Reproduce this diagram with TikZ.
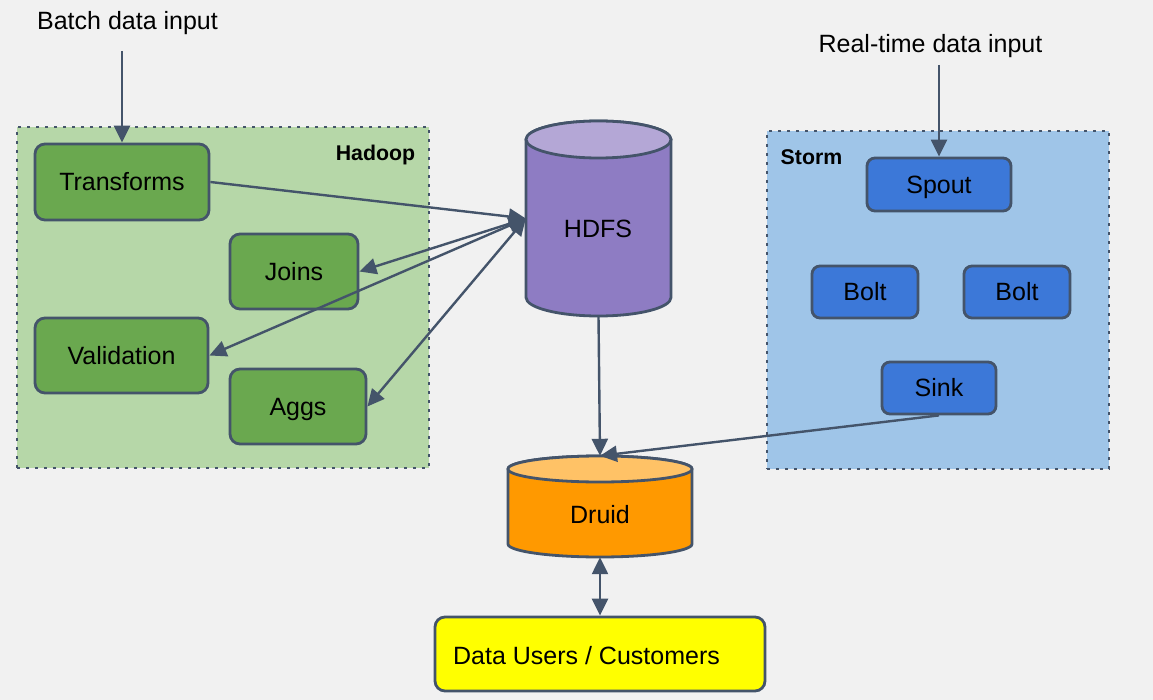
\documentclass[tikz,border=0pt]{standalone}
\usepackage{fontspec}
\setmainfont{Liberation Sans}
\usetikzlibrary{arrows.meta}
\definecolor{bgc}{HTML}{F1F1F1}
\definecolor{strokec}{HTML}{44546A}
\definecolor{hadoopc}{HTML}{B6D7A8}
\definecolor{gnodec}{HTML}{6AA84F}
\definecolor{stormc}{HTML}{9FC5E8}
\definecolor{bnodec}{HTML}{3C78D8}
\definecolor{hdfsbody}{HTML}{8E7CC3}
\definecolor{hdfstop}{HTML}{B4A7D6}
\definecolor{druidbody}{HTML}{FF9900}
\definecolor{druidtop}{HTML}{FFC266}
\definecolor{userc}{HTML}{FFFF00}
\begin{document}
\begin{tikzpicture}[x=1pt,y=-1pt,
  every node/.style={font=\fontsize{25}{30}\selectfont, text=black},
  grp/.style={draw=strokec, line width=2.8pt, dash pattern=on 2.8pt off 6.2pt, rectangle, inner sep=0pt},
  boldlbl/.style={font=\bfseries\fontsize{21.3}{25}\selectfont},
  proc/.style={draw=strokec, line width=2.8pt, rounded corners=10pt, rectangle, inner sep=0pt, text height=17.9pt, text depth=0pt},
  gbox/.style={proc, fill=gnodec},
  bbox/.style={proc, fill=bnodec, rounded corners=8pt},
  anchorbox/.style={rectangle, draw=none, inner sep=0pt},
  conn/.style={draw=strokec, line width=2.4pt, -{Triangle[length=17pt,width=16pt]}},
  biconn/.style={draw=strokec, line width=2.4pt, {Triangle[length=17pt,width=16pt]}-{Triangle[length=17pt,width=16pt]}},
  cyl/.style={draw=strokec, line width=2.8pt}
]
\fill[bgc] (0,0) rectangle (1153,700);
\useasboundingbox (0,0) rectangle (1153,700);

% groups
\node[grp, fill=hadoopc, minimum width=412pt, minimum height=341pt] (hadoop) at (223,297.5) {};
\node[boldlbl] (hadooplabel) at (375.5,155) {Hadoop};
\node[grp, fill=stormc, minimum width=342pt, minimum height=338pt] (storm) at (938,300) {};
\node[boldlbl] (stormlabel) at (811.5,157) {Storm};

% hadoop nodes
\node[gbox, minimum width=174pt, minimum height=76pt] (transforms) at (122,182) {Transforms};
\node[gbox, minimum width=128pt, minimum height=75pt] (joins) at (294,271.5) {Joins};
\node[gbox, minimum width=173pt, minimum height=75pt] (validation) at (121.5,355.5) {Validation};
\node[gbox, minimum width=136pt, minimum height=75pt] (aggs) at (298,406.5) {Aggs};

% storm nodes
\node[bbox, minimum width=144pt, minimum height=53pt] (spout) at (939,184.5) {Spout};
\node[bbox, minimum width=106pt, minimum height=52pt] (bolta) at (865,292) {Bolt};
\node[bbox, minimum width=106pt, minimum height=52pt] (boltb) at (1017,292) {Bolt};
\node[bbox, minimum width=114pt, minimum height=52pt] (sink) at (939,388) {Sink};

% HDFS cylinder
\path[cyl, fill=hdfsbody] (526,139.5) -- (526,297.5) arc (180:360:72.5pt and 18.5pt) -- (671,139.5) arc (0:180:72.5pt and 18.5pt) -- cycle;
\path[cyl, fill=hdfstop] (598.5,139.5) ellipse (72.5pt and 18.5pt);
\node[anchorbox, minimum width=145pt, minimum height=195pt] (hdfs) at (598.5,218.5) {};
\node (hdfstext) at (598,229) {HDFS};

% Druid cylinder
\path[cyl, fill=druidbody] (508,469) -- (508,544) arc (180:360:92pt and 13pt) -- (692,469) arc (0:180:92pt and 13pt) -- cycle;
\path[cyl, fill=druidtop] (600,469) ellipse (92pt and 13pt);
\node[anchorbox, minimum width=184pt, minimum height=101pt] (druid) at (600,506.5) {};
\node (druidtext) at (600,515) {Druid};

% users
\node[proc, fill=userc, minimum width=330pt, minimum height=74pt] (users) at (600,654) {};
\node (userstext) at (586.5,656) {Data Users / Customers};

% inputs
\node (batch) at (127.5,23) {Batch data input};
\coordinate (batchin) at (122,51);
\node (realtime) at (930.5,46) {Real-time data input};
\coordinate (rtin) at (939,65);

% connectors
\draw[conn] (batchin) -- (transforms.north);
\draw[conn] (rtin) -- (spout.north);
\draw[conn] (transforms.east) -- (hdfs.west);
\draw[biconn] (hdfs.west) -- (joins.east);
\draw[biconn] (hdfs.west) -- (validation.east);
\draw[biconn] (hdfs.west) -- (aggs.east);
\draw[conn] (hdfs.south) -- (druid.north);
\draw[conn] (sink.south) -- (druid.north);
\draw[biconn] (druid.south) -- (users.north);
\end{tikzpicture}
\end{document}
